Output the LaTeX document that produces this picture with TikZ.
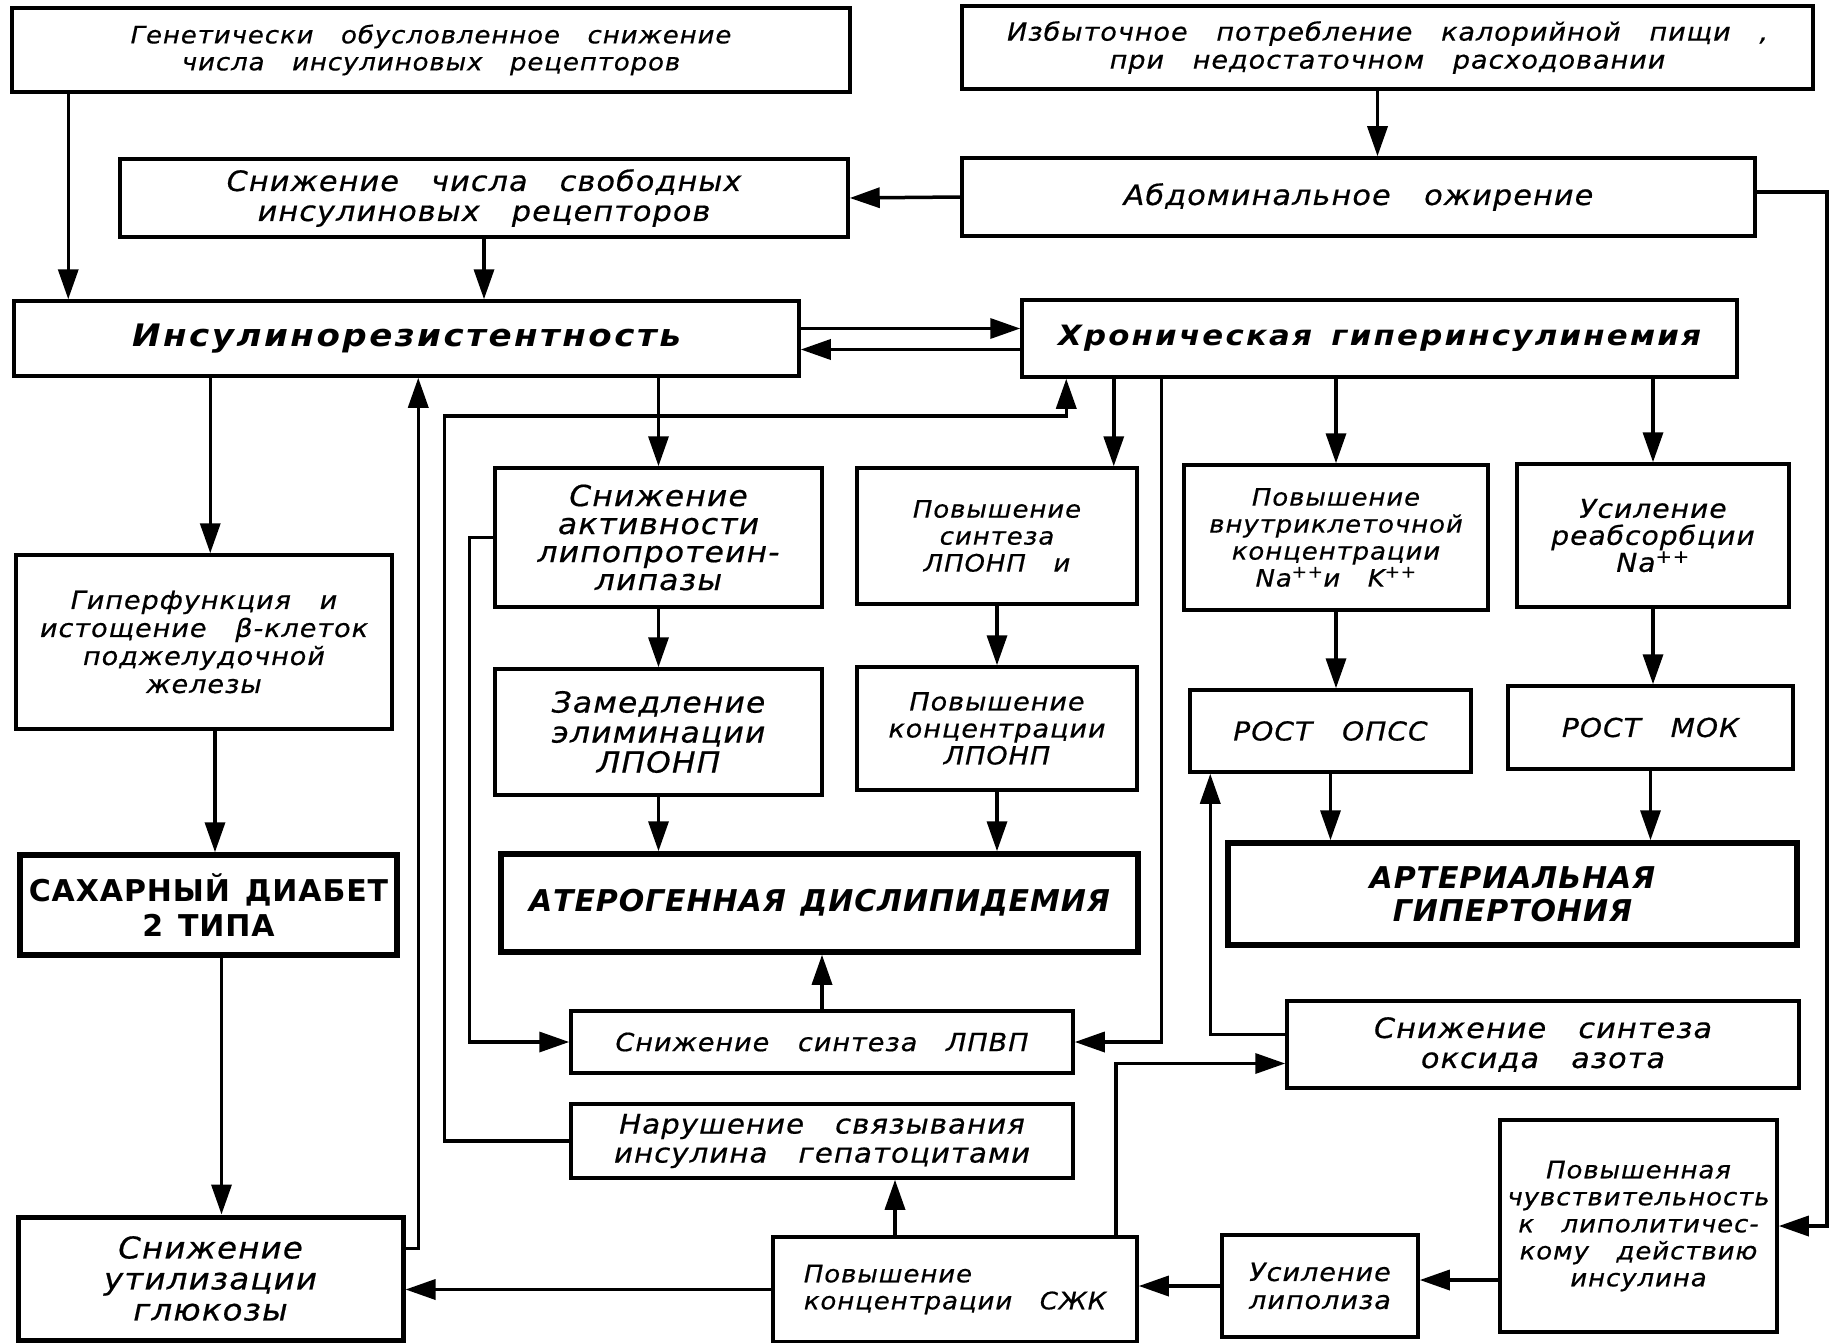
\documentclass[tikz,border=0pt]{standalone}
\usepackage{fontspec}
\usepackage{tikz}
\usetikzlibrary{arrows.meta,calc}

\newfontfamily\gostfont[FakeStretch=1.08,LetterSpace=4,WordSpace=3,FakeBold=0.6]{DejaVu Sans}
\newfontfamily\gostheavy[FakeStretch=1.1,LetterSpace=8,WordSpace=1.5]{DejaVu Sans}
\newfontfamily\gostcaps[LetterSpace=3,WordSpace=1.3]{DejaVu Sans}

\begin{document}
\begin{tikzpicture}[x=1pt, y=-1pt,
    sz/.style 2 args={minimum width=#1pt, minimum height=#2pt},
    fs/.style 2 args={font=\gostfont\itshape\fontsize{#1}{#2}\selectfont},
    blk/.style={draw, line width=3.5pt, inner sep=2pt, align=center, fs={24}{27}},
    hd/.style={blk, font=\gostheavy\bfseries\itshape\fontsize{30}{34}\selectfont},
    capblk/.style={blk, line width=5.5pt,
      font=\gostcaps\bfseries\itshape\fontsize{30}{33}\selectfont},
    arr/.style={line width=3.5pt, -{Triangle[length=30pt,width=20pt]}}]

  \path[use as bounding box, fill=white] (0,0) rectangle (1839,1343);

  % top rows
  \node[blk, sz={838}{84}] (gen) at (431,50)
    {Генетически обусловленное снижение\\числа инсулиновых рецепторов};
  \node[blk, sz={851}{83}, fs={25}{28}] (izb) at (1387.5,47.5)
    {Избыточное потребление калорийной пищи ,\\при недостаточном расходовании};
  \node[blk, sz={728}{78}, fs={28}{30}] (rec) at (484,198)
    {Снижение числа свободных\\инсулиновых рецепторов};
  \node[blk, sz={793}{78}, fs={28}{30}] (abd) at (1358.5,197)
    {Абдоминальное\hspace{1.2em}ожирение};
  \node[hd, sz={785}{75}, font=\gostheavy\bfseries\itshape\fontsize{31}{34}\selectfont] (ir)
    at (406.5,338.5) {Инсулинорезистентность};
  \node[hd, sz={715}{77}, font=\gostheavy\bfseries\itshape\fontsize{28}{34}\selectfont] (hi)
    at (1379.5,338.5) {Хроническая гиперинсулинемия};

  % middle rows
  \node[blk, sz={327}{139}, fs={29}{28}] (lpl) at (658.5,537.5)
    {Снижение\\активности\\липопротеин-\\липазы};
  \node[blk, sz={280}{136}] (sint) at (997,536) {Повышение\\синтеза\\ЛПОНП и};
  \node[blk, sz={304}{145}] (vnk) at (1336,537.5)
    {Повышение\\внутриклеточной\\концентрации\\Na\textsuperscript{++}и K\textsuperscript{++}};
  \node[blk, sz={272}{143}, fs={26}{27}] (reab) at (1653,535.5)
    {Усиление\\реабсорбции\\Na\textsuperscript{++}};
  \node[blk, sz={376}{174}, fs={25}{28}] (hyp) at (204,642)
    {Гиперфункция и\\истощение β-клеток\\поджелудочной\\железы};
  \node[blk, sz={327}{126}, fs={29}{30}] (elim) at (658.5,732)
    {Замедление\\элиминации\\ЛПОНП};
  \node[blk, sz={280}{123}, fs={25}{27}] (konc) at (997,728.5)
    {Повышение\\концентрации\\ЛПОНП};
  \node[blk, sz={281}{82}, fs={26}{28}] (opss) at (1330.5,731) {РОСТ ОПСС};
  \node[blk, sz={285}{83}, fs={26}{28}] (mok) at (1650.5,727.5) {РОСТ МОК};

  \node[capblk, sz={377}{100}, font=\gostcaps\bfseries\fontsize{30}{35}\selectfont] (sd)
    at (208.5,905) {САХАРНЫЙ ДИАБЕТ\\2 ТИПА};
  \node[capblk, sz={637}{98}] (ath) at (819.5,903) {АТЕРОГЕННАЯ ДИСЛИПИДЕМИЯ};
  \node[capblk, sz={569}{102}] (ah) at (1512.5,894) {АРТЕРИАЛЬНАЯ\\ГИПЕРТОНИЯ};

  % bottom rows
  \node[blk, sz={502}{62}, fs={25}{27}] (lpvp) at (822,1042) {Снижение синтеза ЛПВП};
  \node[blk, sz={512}{87}, fs={28}{30}] (no) at (1543,1044.5)
    {Снижение синтеза\\оксида азота};
  \node[blk, sz={502}{74}, fs={27}{29}] (nar) at (822,1141)
    {Нарушение связывания\\инсулина гепатоцитами};
  \node[blk, sz={277}{212}] (sens) at (1638.5,1226)
    {Повышенная\\чувствительность\\к липолитичес-\\кому действию\\инсулина};
  \node[blk, sz={385}{123}, line width=5pt, fs={30}{31}] (util) at (210.5,1278.5)
    {Снижение\\утилизации\\глюкозы};
  \node[blk, sz={364}{105}, align=left] (szhk) at (955,1289.5)
    {Повышение\\концентрации СЖК};
  \node[blk, sz={196}{102}, fs={25}{28}] (lip) at (1320,1286) {Усиление\\липолиза};

  % shifted ends of connectors
  \coordinate (genout) at ([xshift=58]gen.south west);
  \coordinate (izbout) at ([xshift=-10]izb.south);
  \coordinate (abdout) at ([yshift=5]abd.east);
  \coordinate (irhi) at ([yshift=10]ir.east);
  \coordinate (hiir) at ([yshift=-11]hi.west);
  \coordinate (irout) at ([xshift=198]ir.south west);
  \coordinate (hypout) at ([xshift=11]hyp.south);
  \coordinate (sdout) at ([xshift=13]sd.south);
  \coordinate (sintin) at ([xshift=-25]sint.north east);
  \coordinate (szhkup) at ([xshift=-60]szhk.north);
  \coordinate (senslip) at ([yshift=-54]sens.west);
  \coordinate (irin) at ([xshift=406]ir.south west);
  \coordinate (hiin) at ([xshift=46]hi.south west);
  \coordinate (hiloop) at ([xshift=46,yshift=-37]hi.south west);
  \coordinate (hidown) at ([xshift=141]hi.south west);
  \coordinate (szhkno) at ([xshift=-23]szhk.north east);
  \coordinate (noin) at ([yshift=-19]no.west);
  \coordinate (noout) at ([yshift=10]no.west);
  \coordinate (opssin) at ([xshift=22]opss.south west);

  \draw[arr] (genout) -- (genout |- ir.north);
  \draw[arr] (izbout) -- (izbout |- abd.north);
  \draw[arr] (abd.west) -- (rec.east);
  \draw[arr] (rec.south) -- (rec.south |- ir.north);
  \draw[arr] (irhi) -- (irhi -| hi.west);
  \draw[arr] (hiir) -- (hiir -| ir.east);
  \draw[arr] (irout) -- (irout |- hyp.north);
  \draw[arr] (hypout) -- (hypout |- sd.north);
  \draw[arr] (sdout) -- (sdout |- util.north);

  \draw[arr] (lpl.north |- ir.south) -- (lpl.north);
  \draw[arr] (lpl.south) -- (elim.north);
  \draw[arr] (elim.south) -- (elim.south |- ath.north);
  \draw[arr] (sintin |- hi.south) -- (sintin);
  \draw[arr] (sint.south) -- (konc.north);
  \draw[arr] (konc.south) -- (konc.south |- ath.north);
  \draw[arr] (vnk.north |- hi.south) -- (vnk.north);
  \draw[arr] (vnk.south) -- (vnk.south |- opss.north);
  \draw[arr] (opss.south) -- (opss.south |- ah.north);
  \draw[arr] (reab.north |- hi.south) -- (reab.north);
  \draw[arr] (reab.south) -- (reab.south |- mok.north);
  \draw[arr] (mok.south) -- (mok.south |- ah.north);

  \draw[arr] (lpvp.north) -- (lpvp.north |- ath.south);
  \draw[arr] (szhkup) -- (szhkup |- nar.south);
  \draw[arr] (szhk.west) -- (szhk.west -| util.east);
  \draw[arr] (lip.west) -- (lip.west -| szhk.east);
  \draw[arr] (senslip) -- (senslip -| lip.east);

  % long feedback lines
  \draw[arr] (abdout) -- ++(70,0) |- (sens.east);
  \draw[arr] ([yshift=30]util.east) -| (irin);
  \draw[arr] (nar.west) -- ++(-125,0) |- (hiloop) -- (hiin);
  \draw[arr] (lpl.west) -- ++(-24,0) |- (lpvp.west);
  \draw[arr] (hidown) |- (lpvp.east);
  \draw[arr] (szhkno) |- (noin);
  \draw[arr] (noout) -| (opssin);
\end{tikzpicture}
\end{document}
